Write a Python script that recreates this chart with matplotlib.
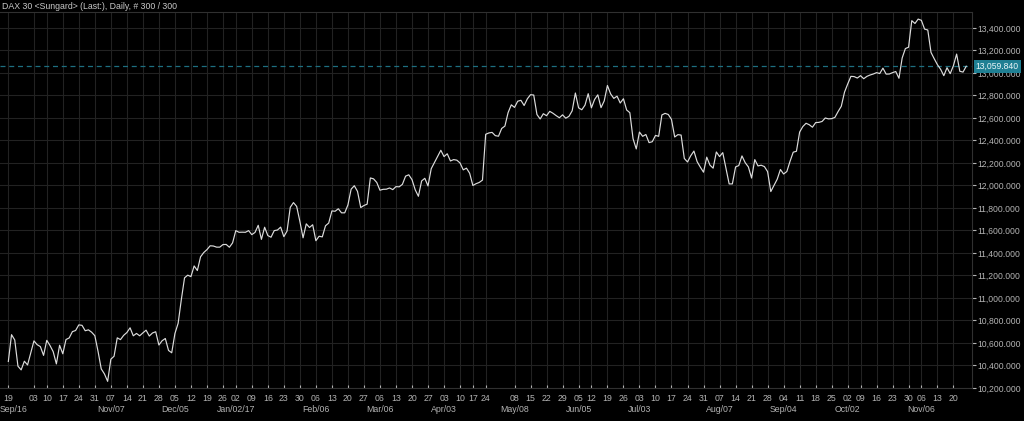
import matplotlib
matplotlib.use('Agg')
import matplotlib.pyplot as plt
import matplotlib.transforms as mtransforms
import pandas as pd

plt.rcParams.update({'font.family': ['Liberation Sans', 'DejaVu Sans'], 'font.size': 6})

# trading calendar used by the feed (German holidays removed)
holidays = ['2016-10-03', '2016-12-26', '2017-04-14', '2017-04-17',
            '2017-05-01', '2017-06-05', '2017-10-03', '2017-10-31']
dates = pd.bdate_range('2016-09-21', '2017-11-24')
dates = dates[~dates.isin(pd.to_datetime(holidays))]

# daily closes
close_2016 = [10436, 10674, 10627, 10394, 10361, 10438, 10405, 10511,
              10619, 10585, 10568, 10490, 10624, 10578, 10523, 10414, 10580,
              10504, 10631, 10645, 10701, 10711, 10761, 10757, 10709, 10717, 10696,
              10665, 10526, 10370, 10325, 10259, 10456, 10482, 10646, 10630, 10668,
              10693, 10735, 10664, 10685, 10664, 10690, 10714, 10662, 10689, 10700,
              10582, 10620, 10640, 10534, 10513, 10684, 10775, 10986, 11179, 11203,
              11190, 11285, 11244, 11366, 11404, 11430, 11464, 11462, 11452, 11452,
              11475, 11476, 11451, 11490]
close_2017_h1 = [11599, 11584, 11585, 11584, 11599, 11563, 11583, 11646, 11521, 11629,
                 11555, 11540, 11599, 11604, 11630, 11545, 11595, 11806, 11848, 11814,
                 11681, 11535, 11659, 11627, 11651, 11509, 11549, 11543, 11642, 11666,
                 11774, 11771, 11793, 11757, 11757, 11827, 11967, 11998, 11947, 11804,
                 11822, 11834, 12067, 12059, 12027, 11958, 11966, 11967, 11978, 11963,
                 11990, 11988, 12010, 12083, 12095, 12052, 11962, 11904, 12040, 12064,
                 11996, 12149, 12203, 12256, 12313, 12257, 12282, 12218, 12230, 12225,
                 12200, 12139, 12154, 12109, 12000, 12016, 12027, 12048, 12455, 12467,
                 12472, 12443, 12438, 12507, 12528, 12648, 12717, 12694, 12749, 12757,
                 12711, 12770, 12807, 12804, 12631, 12591, 12638, 12620, 12659, 12642,
                 12621, 12602, 12628, 12598, 12615, 12664, 12822, 12690, 12673, 12714,
                 12816, 12690, 12765, 12806, 12692, 12752, 12889, 12814, 12774, 12794,
                 12733, 12771, 12671, 12647, 12416, 12325]
close_2017_h2 = [12475, 12437, 12453, 12381, 12389, 12445, 12437, 12627, 12641, 12631,
                 12587, 12431, 12452, 12448, 12240, 12209, 12264, 12306, 12212, 12163,
                 12118, 12252, 12181, 12154, 12298, 12257, 12292, 12154, 12014, 12014,
                 12165, 12177, 12263, 12203, 12165, 12066, 12230, 12174, 12180, 12168,
                 12123, 11946, 12002, 12056, 12142, 12102, 12124, 12215, 12296, 12304,
                 12475, 12524, 12553, 12540, 12518, 12559, 12561, 12569, 12600, 12592,
                 12594, 12605, 12657, 12704, 12829, 12902, 12970, 12968, 12955, 12976,
                 12949, 12970, 12982, 12991, 13003, 12995, 13043, 12990, 12991, 13003,
                 13013, 12953, 13133, 13217, 13229, 13465, 13440, 13479, 13468, 13390,
                 13382, 13183, 13127, 13074, 13033, 12976, 13047, 12994, 13065, 13168,
                 13015, 13008, 13060]
closes = close_2016 + close_2017_h1 + close_2017_h2
last_price = 13059.84

week_starts = ['2016-09-19'] + [d.strftime('%Y-%m-%d') for d in
               pd.date_range('2016-10-03', '2017-11-20', freq='W-MON')
               if d != pd.Timestamp('2017-05-01')]
month_starts = ['2016-11-07', '2016-12-05', '2017-01-02', '2017-02-06', '2017-03-06',
                '2017-04-03', '2017-05-08', '2017-06-05', '2017-07-03', '2017-08-07',
                '2017-09-04', '2017-10-02', '2017-11-06']
month_labels = ['Nov/07', 'Dec/05', 'Jan/02/17', 'Feb/06', 'Mar/06', 'Apr/03', 'May/08',
                'Jun/05', 'Jul/03', 'Aug/07', 'Sep/04', 'Oct/02', 'Nov/06']
y_ticks = list(range(10200, 13401, 200))

BG = '#000000'
GRID = '#222222'
TXT = '#b4b4b4'

fig = plt.figure(figsize=(10.24, 4.21), dpi=100, facecolor=BG)
ax = fig.add_axes([0, 33 / 421, 972 / 1024, 376 / 421], facecolor=BG)

n = len(closes)
x = list(range(n))
ax.plot(x, closes, color='#dcdcdc', lw=0.85, zorder=3)
ax.axhline(last_price, color='#1d6f80', lw=0.9, ls=(0, (4, 3)), zorder=2)

ax.set_xlim(-2.6, 300.8)
ax.set_ylim(10200, 13542)

wk_pos = [int(dates.searchsorted(pd.Timestamp(d))) for d in week_starts]
wk_lab = [pd.Timestamp(d).strftime('%d') for d in week_starts]
ax.set_xticks(wk_pos, wk_lab)
ax.tick_params(axis='x', direction='in', length=2, pad=4, colors=TXT, labelsize=6.3)

ax.yaxis.tick_right()
ax.set_yticks(y_ticks, [f'{v:,.3f}' for v in y_ticks])
ax.tick_params(axis='y', direction='out', length=3, pad=1, colors=TXT, labelsize=6.2)

ax.grid(True, color=GRID, lw=0.8)
ax.set_axisbelow(True)
for side, sp in ax.spines.items():
    sp.set_color('#303030')
    sp.set_linewidth(0.8)
ax.spines['left'].set_visible(False)

trans = mtransforms.blended_transform_factory(ax.transData, ax.transAxes)
ax.text(0.0, -0.058, 'Sep/16', transform=ax.transAxes, ha='left', va='center', color=TXT, fontsize=6.3)
for d, lab in zip(month_starts, month_labels):
    ax.text(int(dates.searchsorted(pd.Timestamp(d))), -0.058, lab, transform=trans,
            ha='center', va='center', color=TXT, fontsize=6.3)

trans_y = mtransforms.blended_transform_factory(ax.transAxes, ax.transData)
ax.text(1.004, last_price, f'{last_price:,.3f}', transform=trans_y, ha='left', va='center',
        color='#eaf6f8', fontsize=6.2, zorder=5, clip_on=False,
        bbox=dict(boxstyle='square,pad=0.25', fc='#1f7f93', ec='none'))

fig.text(2 / 1024, 1 - 6.5 / 421, 'DAX 30 <Sungard> (Last:), Daily, # 300 / 300',
         ha='left', va='center', color='#c8c8c8', fontsize=6.3)

fig.savefig('out.png', dpi=100, facecolor=BG)
